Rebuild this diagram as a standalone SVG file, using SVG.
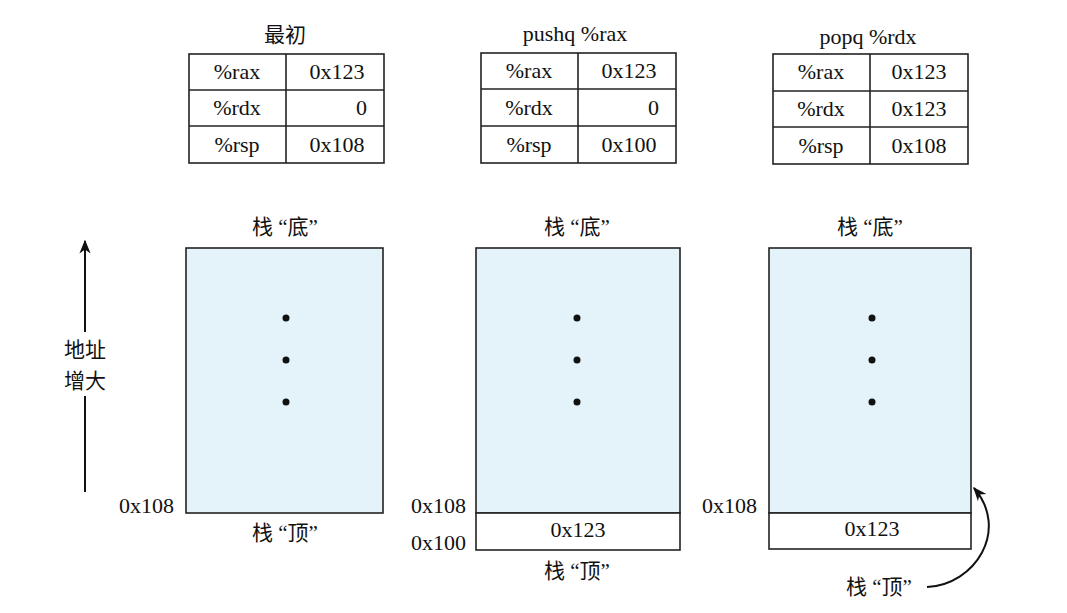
<svg xmlns="http://www.w3.org/2000/svg" width="1067" height="613" viewBox="0 0 1067 613">
<defs>
<style>
.t{font-family:"Liberation Serif","Noto Sans CJK SC",serif;font-size:22px;fill:#111;}
.z{font-size:21px;}
.c{text-anchor:middle;}
.r{text-anchor:end;}
.cell{fill:#fff;stroke:#222;stroke-width:1.6;}
.stk{fill:#e4f2f9;stroke:#222;stroke-width:1.6;}
.wh{fill:#fff;stroke:#222;stroke-width:1.6;}
.dot{fill:#111;}
.ln{fill:none;stroke:#111;stroke-width:2;}
</style>
<marker id="ah2" viewBox="0 0 10 10" refX="9" refY="5" markerWidth="14" markerHeight="14" orient="auto" markerUnits="userSpaceOnUse"><path d="M0,1 L10,5 L0,9 L3,5 Z" fill="#111"/></marker>
</defs>
<rect width="1067" height="613" fill="#fff"/>

<g id="table1">
<text class="t z c" x="285" y="42">最初</text>
<rect class="cell" x="189" y="54" width="195" height="109"/>
<line class="cell" x1="189" y1="90" x2="384" y2="90"/>
<line class="cell" x1="189" y1="126" x2="384" y2="126"/>
<line class="cell" x1="286" y1="54" x2="286" y2="163"/>
<text class="t c" x="237" y="79">%rax</text><text class="t c" x="337" y="79">0x123</text>
<text class="t c" x="237" y="115">%rdx</text><text class="t r" x="367" y="115">0</text>
<text class="t c" x="237" y="152">%rsp</text><text class="t c" x="337" y="152">0x108</text>
</g>

<g id="table2">
<text class="t c" x="575" y="41">pushq %rax</text>
<rect class="cell" x="481" y="53" width="195" height="110"/>
<line class="cell" x1="481" y1="89" x2="676" y2="89"/>
<line class="cell" x1="481" y1="126" x2="676" y2="126"/>
<line class="cell" x1="578" y1="53" x2="578" y2="163"/>
<text class="t c" x="529" y="78">%rax</text><text class="t c" x="629" y="78">0x123</text>
<text class="t c" x="529" y="115">%rdx</text><text class="t r" x="659" y="115">0</text>
<text class="t c" x="529" y="152">%rsp</text><text class="t c" x="629" y="152">0x100</text>
</g>

<g id="table3">
<text class="t c" x="868" y="44">popq %rdx</text>
<rect class="cell" x="773" y="54" width="195" height="110"/>
<line class="cell" x1="773" y1="91" x2="968" y2="91"/>
<line class="cell" x1="773" y1="127" x2="968" y2="127"/>
<line class="cell" x1="870" y1="54" x2="870" y2="164"/>
<text class="t c" x="821" y="79">%rax</text><text class="t c" x="919" y="79">0x123</text>
<text class="t c" x="821" y="116">%rdx</text><text class="t c" x="919" y="116">0x123</text>
<text class="t c" x="821" y="153">%rsp</text><text class="t c" x="919" y="153">0x108</text>
</g>

<g id="axis">
<text class="t z c" x="85" y="357">地址</text>
<text class="t z c" x="85" y="388">增大</text>
</g>

<g id="stack1">
<text class="t z c" x="285" y="234">栈 “底”</text>
<rect class="stk" x="186" y="248" width="197" height="265"/>
<circle class="dot" cx="286" cy="318" r="3.5"/>
<circle class="dot" cx="286" cy="360" r="3.5"/>
<circle class="dot" cx="286" cy="402" r="3.5"/>
<text class="t r" x="174" y="513">0x108</text>
<text class="t z c" x="285" y="540">栈 “顶”</text>
</g>

<g id="stack2">
<text class="t z c" x="577" y="234">栈 “底”</text>
<rect class="stk" x="476" y="248" width="204" height="265"/>
<rect class="wh" x="476" y="513" width="204" height="37"/>
<circle class="dot" cx="577" cy="318" r="3.5"/>
<circle class="dot" cx="577" cy="360" r="3.5"/>
<circle class="dot" cx="577" cy="402" r="3.5"/>
<text class="t c" x="578" y="537">0x123</text>
<text class="t r" x="466" y="513">0x108</text>
<text class="t r" x="466" y="550">0x100</text>
<text class="t z c" x="577" y="578">栈 “顶”</text>
</g>

<g id="stack3">
<text class="t z c" x="870" y="234">栈 “底”</text>
<rect class="stk" x="769" y="248" width="202" height="265"/>
<rect class="wh" x="769" y="513" width="202" height="36"/>
<circle class="dot" cx="872" cy="318" r="3.5"/>
<circle class="dot" cx="872" cy="360" r="3.5"/>
<circle class="dot" cx="872" cy="402" r="3.5"/>
<text class="t c" x="872" y="536">0x123</text>
<text class="t r" x="757" y="513">0x108</text>
<text class="t z c" x="879" y="594">栈 “顶”</text>
</g>

<g id="connectors">
<line class="ln" x1="85" y1="332" x2="85" y2="241" marker-end="url(#ah2)"/>
<line class="ln" x1="85" y1="396" x2="85" y2="492"/>
<path class="ln" d="M927,587 C975,585 1010,530 974,488" marker-end="url(#ah2)"/>
</g>
</svg>
